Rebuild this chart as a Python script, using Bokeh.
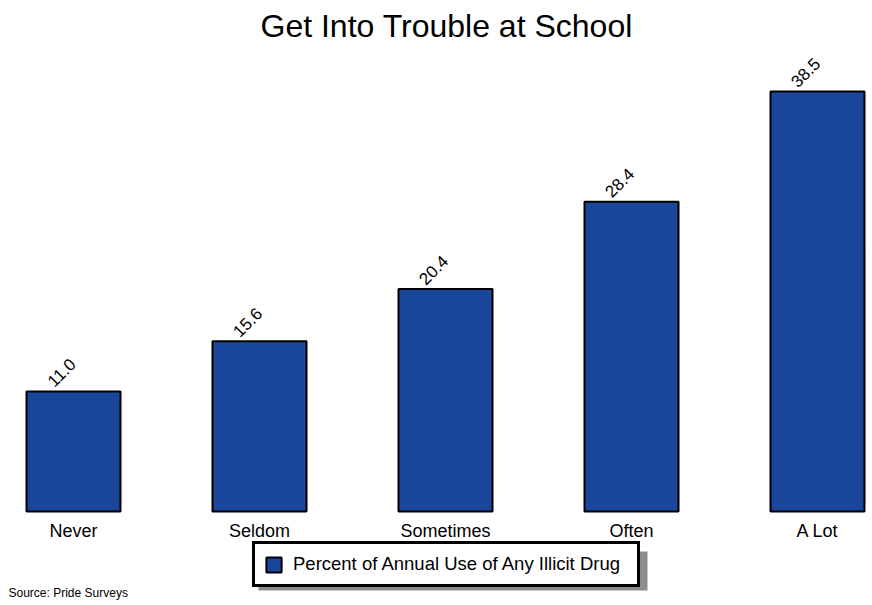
from bokeh.plotting import figure
from bokeh.models import Legend, LegendItem, ColumnDataSource, Label
from bokeh.embed import file_html
from bokeh.resources import INLINE
from bokeh.core.properties import value

# ---- data ----
categories = ["Never", "Seldom", "Sometimes", "Often", "A Lot"]
percent = [11.0, 15.6, 20.4, 28.4, 38.5]
series_name = "Percent of Annual Use of Any Illicit Drug"
title_text = "Get Into Trouble at School"
source_text = "Source: Pride Surveys"

# ---- layout ----
W, H = 872, 605
TITLE_H = 48           # estimated height of title panel
PX = 186.0             # pixels per category step
PY = 10.91             # pixels per percent unit
BASE_FROM_BOTTOM = 94  # px from figure bottom to value 0
FONT = "Liberation Sans"

x_start = -73.0 / PX
x_end = x_start + W / PX
y_start = -BASE_FROM_BOTTOM / PY
y_end = (H - TITLE_H - BASE_FROM_BOTTOM) / PY

def sx(px):  # px from left -> data x
    return x_start + px / PX

def sy(py):  # px from top -> data y
    return (H - BASE_FROM_BOTTOM - py) / PY

xs = list(range(len(categories)))
src = ColumnDataSource(dict(
    x=xs, top=percent, cat=categories,
    lab=["%.1f" % v for v in percent],
))

p = figure(width=W, height=H, x_range=(x_start, x_end), y_range=(y_start, y_end),
           x_axis_type=None, y_axis_type=None, toolbar_location=None,
           output_backend="svg", min_border=0, outline_line_color=None,
           title=title_text)
p.grid.visible = False
p.background_fill_color = "white"
p.border_fill_color = "white"
p.title.align = "left"
p.title.offset = 260
p.title.text_font = FONT
p.title.text_font_size = "32px"
p.title.text_font_style = "normal"
p.title.text_color = "black"

bars = p.vbar(x="x", top="top", bottom=0, width=94 / PX, source=src,
              fill_color="#1a479b", line_color="black", line_width=2)

# value labels (rotated)
p.text(x="x", y="top", text="lab", source=src, angle=0.785398,
       text_align="center", text_baseline="middle", x_offset=-12, y_offset=-19,
       text_font=value(FONT), text_font_size="17px", text_color="black")

# category labels
p.text(x="x", y=0, text="cat", source=src, text_align="center",
       text_baseline="top", y_offset=9, text_font=value(FONT),
       text_font_size="18px", text_color="black")

# legend shadow
p.quad(left=sx(258), right=sx(647), top=sy(551), bottom=sy(590),
       fill_color="#8c8c8c", line_color=None)

legend = Legend(items=[LegendItem(label=series_name, renderers=[bars])],
                location=(252, 18), orientation="vertical",
                border_line_color="black", border_line_width=3, border_line_alpha=1.0,
                background_fill_color="white", background_fill_alpha=1.0,
                padding=9, margin=0, spacing=0,
                glyph_width=19, glyph_height=19, label_height=19,
                label_width=335, label_standoff=10,
                label_text_font=FONT, label_text_font_size="18.5px",
                label_text_color="black")
p.add_layout(legend)

p.add_layout(Label(x=sx(8), y=sy(592), text=source_text, text_align="left",
                   text_baseline="middle", text_font=FONT,
                   text_font_size="12px", text_color="black"))

open("out.html", "w").write(file_html(p, INLINE))
